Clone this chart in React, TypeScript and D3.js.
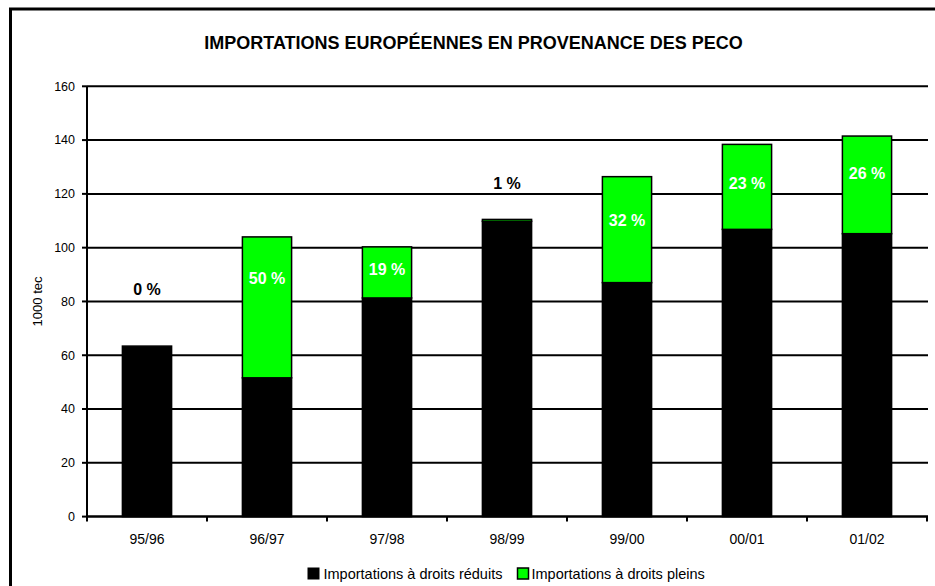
import React from "react";
import * as d3 from "d3";

const title = "IMPORTATIONS EUROPÉENNES EN PROVENANCE DES PECO";
const yAxisTitle = "1000 tec";
const categories = ["95/96", "96/97", "97/98", "98/99", "99/00", "00/01", "01/02"];
const reduced = [63.4, 51.6, 81.3, 109.8, 87.0, 106.8, 105.2];
const full = [0, 52.4, 19.0, 0.7, 39.4, 31.6, 36.3];
const pctLabels = ["0 %", "50 %", "19 %", "1 %", "32 %", "23 %", "26 %"];
const pctLabelValues = [84.6, 88.4, 92.1, 124, 110, 123.9, 127.6];
const pctLabelInside = [false, true, true, false, true, true, true];
const yTicks = [0, 20, 40, 60, 80, 100, 120, 140, 160];
const seriesNames = ["Importations à droits réduits", "Importations à droits pleins"];
const seriesColors = ["#000000", "#00FF00"];

const W = 935;
const H = 586;
const FONT = "'Liberation Sans', Arial, Helvetica, sans-serif";

export default function App() {
  const left = 87;
  const right = 927;
  const top = 86.3;
  const bottom = 516.6;

  const x = d3.scaleBand<string>().domain(categories).range([left, right]).paddingInner(0.59).paddingOuter(0.295);
  const xb = d3.scaleBand<string>().domain(categories).range([left, right]).padding(0);
  const y = d3.scaleLinear().domain([0, 160]).range([bottom, top]);

  const stackData = categories.map((c, i) => ({ cat: c, reduced: reduced[i], full: full[i] }));
  const stack = d3.stack<any>().keys(["reduced", "full"])(stackData);

  return (
    <svg width={W} height={H} style={{ position: "absolute", left: 0, top: 0, background: "#fff" }} fontFamily={FONT}>
      <rect x={0} y={0} width={W} height={H} fill="#fff" />
      {/* outer frame */}
      <rect x={10.5} y={9} width={W + 20} height={H + 20} fill="none" stroke="#000" strokeWidth={3} />

      <text x={473.5} y={49} textAnchor="middle" fontSize={18} fontWeight="bold" fill="#000">
        {title}
      </text>

      {/* gridlines */}
      {yTicks.map((t) => (
        <line key={"g" + t} x1={left} x2={right + 1} y1={y(t)} y2={y(t)} stroke="#000" strokeWidth={2} />
      ))}

      {/* bars */}
      {stack.map((s, si) =>
        s.map((d, i) => {
          const h = y(d[0]) - y(d[1]);
          if (h <= 0) return null;
          return (
            <rect
              key={si + "-" + i}
              x={x(categories[i])!}
              y={y(d[1])}
              width={x.bandwidth()}
              height={h}
              fill={seriesColors[si]}
              stroke="#000"
              strokeWidth={1.5}
            />
          );
        })
      )}

      {/* y axis */}
      <line x1={left} x2={left} y1={top} y2={bottom + 5} stroke="#000" strokeWidth={2} />
      {yTicks.map((t) => (
        <g key={"yt" + t}>
          <line x1={left - 5} x2={left} y1={y(t)} y2={y(t)} stroke="#000" strokeWidth={2} />
          <text x={75} y={y(t)} dy="0.35em" textAnchor="end" fontSize={12.5} fill="#000">
            {t}
          </text>
        </g>
      ))}
      <text
        transform={`translate(42,${(top + bottom) / 2}) rotate(-90)`}
        textAnchor="middle"
        fontSize={13}
        fill="#000"
      >
        {yAxisTitle}
      </text>

      {/* x axis */}
      <line x1={left} x2={right + 1} y1={bottom} y2={bottom} stroke="#000" strokeWidth={2} />
      {categories.map((c) => (
        <line key={"xt" + c} x1={xb(c)! + xb.bandwidth()} x2={xb(c)! + xb.bandwidth()} y1={bottom} y2={bottom + 5} stroke="#000" strokeWidth={2} />
      ))}
      {categories.map((c) => (
        <text key={"xl" + c} x={xb(c)! + xb.bandwidth() / 2} y={543.5} textAnchor="middle" fontSize={14} fill="#000">
          {c}
        </text>
      ))}

      {/* percentage labels */}
      {categories.map((c, i) => (
        <text
          key={"pl" + c}
          x={x(c)! + x.bandwidth() / 2}
          y={y(pctLabelValues[i])}
          dy="0.35em"
          textAnchor="middle"
          fontSize={16}
          fontWeight="bold"
          fill={pctLabelInside[i] ? "#fff" : "#000"}
        >
          {pctLabels[i]}
        </text>
      ))}

      {/* legend */}
      <rect x={308} y={568} width={11} height={11} fill={seriesColors[0]} stroke="#000" strokeWidth={1} />
      <text x={323.5} y={579} fontSize={14.5} fill="#000">
        {seriesNames[0]}
      </text>
      <rect x={517.5} y={568} width={11} height={11} fill={seriesColors[1]} stroke="#000" strokeWidth={1.5} />
      <text x={531.5} y={579} fontSize={14.5} fill="#000">
        {seriesNames[1]}
      </text>
    </svg>
  );
}
